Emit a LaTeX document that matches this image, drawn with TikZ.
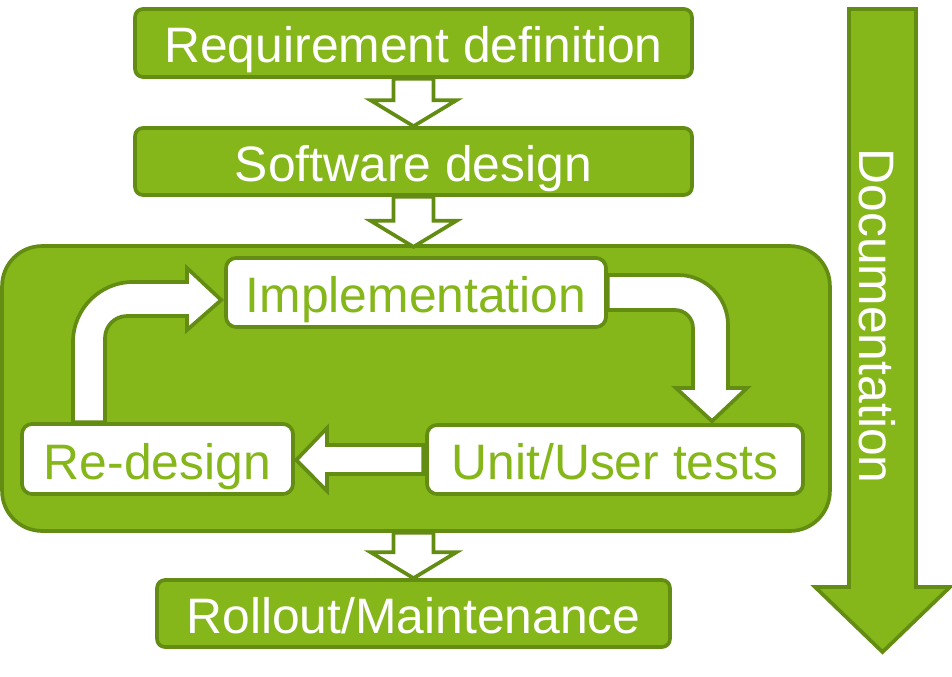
\documentclass[tikz,border=0pt]{standalone}
\usepackage{fontspec}
\setmainfont{Liberation Sans}
\usetikzlibrary{calc}
\definecolor{gfill}{RGB}{133,182,26}
\definecolor{gline}{RGB}{98,140,18}
\begin{document}
\begin{tikzpicture}[x=0.02cm,y=-0.02cm,
  txt/.style={font=\fontsize{28.35}{34}\selectfont, text height=0.8cm, text depth=0pt, inner sep=0pt},
  gbox/.style={txt, draw=gline, fill=gfill, text=white, line width=2.1pt, rounded corners=0.16cm},
  wbox/.style={txt, draw=gline, fill=white, text=gfill, line width=2.1pt, rounded corners=0.2cm},
  hollow/.style={draw=gline, fill=white, line width=2.1pt, line join=miter},
  bigarrow/.style={draw=gline, fill=gfill, line width=2.1pt, line join=miter}]
\useasboundingbox (0,0) rectangle (952,676);

% container
\node[draw=gline, fill=gfill, line width=2.1pt, rounded corners=0.8cm,
      minimum width=16.56cm, minimum height=5.7cm, inner sep=0pt] (loop) at (416,388.5) {};

% boxes
\node[gbox, minimum width=11.14cm, minimum height=1.36cm] (req) at (413.5,43) {Requirement definition};
\node[gbox, minimum width=11.14cm, minimum height=1.34cm] (sw) at (413.5,161.5) {Software design};
\node[wbox, minimum width=7.6cm, minimum height=1.38cm] (impl) at (416,292.5) {Implementation};
\node[wbox, minimum width=7.52cm, minimum height=1.38cm] (unit) at (615,459.5) {Unit/User tests};
\node[wbox, minimum width=5.42cm, minimum height=1.4cm] (redes) at (157.5,459) {Re-design};
\node[gbox, minimum width=10.26cm, minimum height=1.34cm] (roll) at (413.5,613.5) {Rollout/Maintenance};

% hollow arrows between stages
\draw[hollow] ($(req.south)+(-20,0)$) -- ($(sw.north)+(-20,-26)$) -- ($(sw.north)+(-43,-26)$)
  -- (sw.north) -- ($(sw.north)+(43,-26)$) -- ($(sw.north)+(20,-26)$) -- ($(req.south)+(20,0)$) -- cycle;
\draw[hollow] ($(sw.south)+(-20,0)$) -- ($(sw.south)+(-20,24)$) -- ($(sw.south)+(-43,24)$)
  -- ($(sw.south)+(0,50)$) coordinate (t2) -- ($(sw.south)+(43,24)$) -- ($(sw.south)+(20,24)$) -- ($(sw.south)+(20,0)$) -- cycle;
\draw[hollow] ($(roll.north |- loop.south)+(-20,0)$) -- ($(roll.north)+(-20,-26)$) -- ($(roll.north)+(-43,-26)$)
  -- (roll.north) -- ($(roll.north)+(43,-26)$) -- ($(roll.north)+(20,-26)$) -- ($(roll.north |- loop.south)+(20,0)$) -- cycle;

% loop arrows
\draw[hollow] ($(redes.north)+(-84.5,0)$) -- (73,342) arc (180:270:60) -- (187,282) -- (187,268)
  -- ($(impl.west)+(-3,7.5)$) -- (187,330) -- (187,316) -- (127,316) arc (270:180:22)
  -- ($(redes.north)+(-52.5,0)$) -- cycle;
\draw[hollow] ($(impl.east)+(0,-17.5)$) -- (678,275) arc (-90:0:50) -- (728,388) -- (747,388)
  -- ($(unit.north)+(97,-2)$) -- (676,388) -- (693,388) -- (693,328) arc (0:-90:18)
  -- ($(impl.east)+(0,17.5)$) -- cycle;
\draw[hollow] ($(unit.west)+(-2,-14.5)$) -- (327,445) -- (327,428) -- ($(redes.east)+(1.5,1)$)
  -- (327,491) -- (327,474) -- ($(unit.west)+(-2,14.5)$) -- cycle;

% documentation arrow
\coordinate (dtop) at (882.5,9);
\coordinate (dtip) at (882.5,652);
\draw[bigarrow] ($(dtop)+(-33.5,0)$) -- ($(dtip)+(-33.5,-65)$) -- ($(dtip)+(-67.5,-65)$) -- (dtip)
  -- ($(dtip)+(67.5,-65)$) -- ($(dtip)+(33.5,-65)$) -- ($(dtop)+(33.5,0)$) -- cycle;
\node[txt, text=white, rotate=-90] (doc) at (879,316) {Documentation};
\end{tikzpicture}
\end{document}
